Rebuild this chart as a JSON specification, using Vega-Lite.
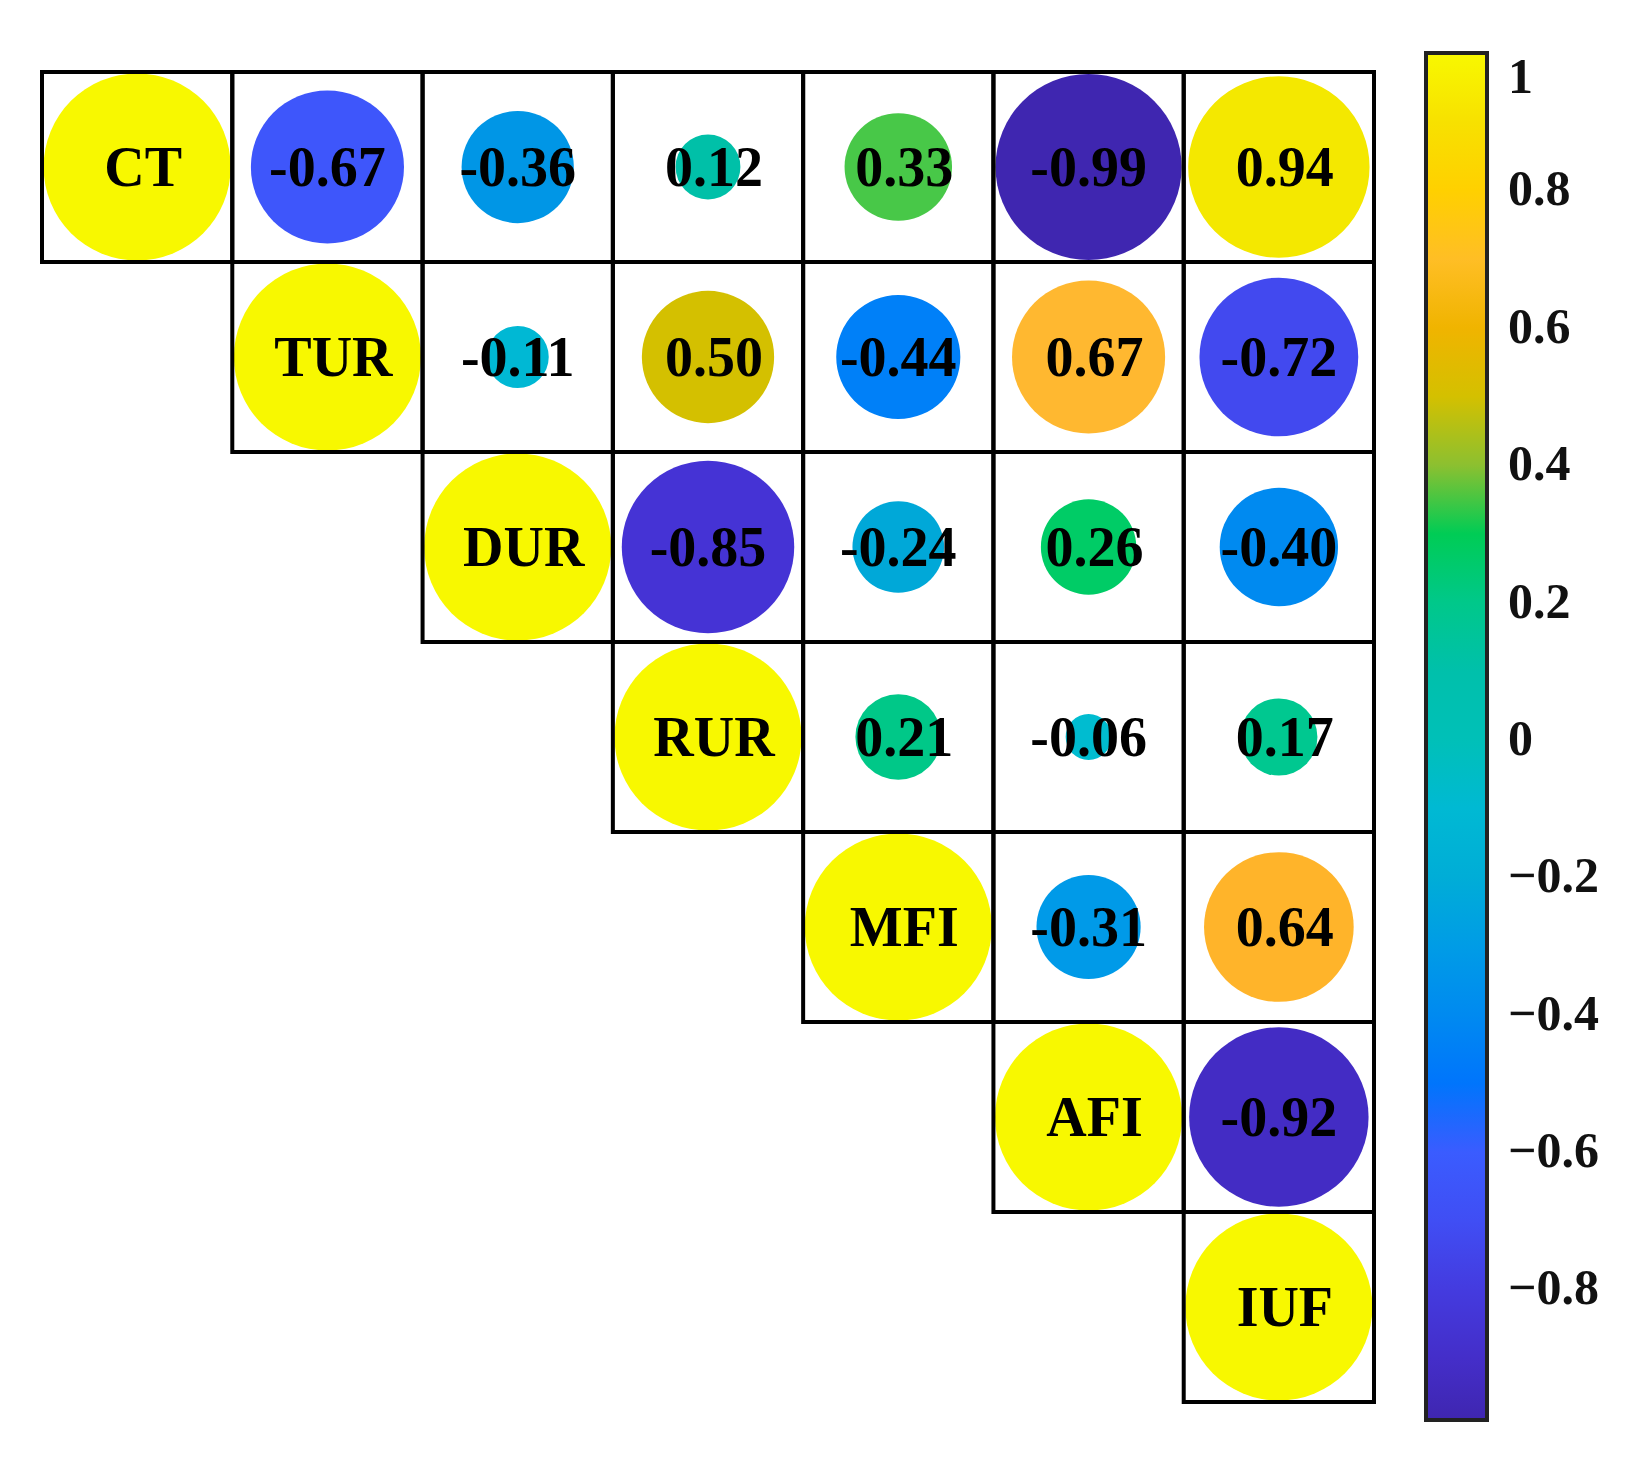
{
  "$schema": "https://vega.github.io/schema/vega-lite/v6.json",
  "autosize": {"type": "none"},
  "width": 1332,
  "height": 1330,
  "padding": {"left": 42, "top": 72, "right": 268, "bottom": 71},
  "background": "white",
  "config": {"view": {"stroke": null}},
  "data": {
    "values": [
      {"row": "CT", "col": "CT", "r": 1, "label": "CT"},
      {"row": "CT", "col": "TUR", "r": -0.67, "label": "-0.67"},
      {"row": "CT", "col": "DUR", "r": -0.36, "label": "-0.36"},
      {"row": "CT", "col": "RUR", "r": 0.12, "label": "0.12"},
      {"row": "CT", "col": "MFI", "r": 0.33, "label": "0.33"},
      {"row": "CT", "col": "AFI", "r": -0.99, "label": "-0.99"},
      {"row": "CT", "col": "IUF", "r": 0.94, "label": "0.94"},
      {"row": "TUR", "col": "TUR", "r": 1, "label": "TUR"},
      {"row": "TUR", "col": "DUR", "r": -0.11, "label": "-0.11"},
      {"row": "TUR", "col": "RUR", "r": 0.50, "label": "0.50"},
      {"row": "TUR", "col": "MFI", "r": -0.44, "label": "-0.44"},
      {"row": "TUR", "col": "AFI", "r": 0.67, "label": "0.67"},
      {"row": "TUR", "col": "IUF", "r": -0.72, "label": "-0.72"},
      {"row": "DUR", "col": "DUR", "r": 1, "label": "DUR"},
      {"row": "DUR", "col": "RUR", "r": -0.85, "label": "-0.85"},
      {"row": "DUR", "col": "MFI", "r": -0.24, "label": "-0.24"},
      {"row": "DUR", "col": "AFI", "r": 0.26, "label": "0.26"},
      {"row": "DUR", "col": "IUF", "r": -0.40, "label": "-0.40"},
      {"row": "RUR", "col": "RUR", "r": 1, "label": "RUR"},
      {"row": "RUR", "col": "MFI", "r": 0.21, "label": "0.21"},
      {"row": "RUR", "col": "AFI", "r": -0.06, "label": "-0.06"},
      {"row": "RUR", "col": "IUF", "r": 0.17, "label": "0.17"},
      {"row": "MFI", "col": "MFI", "r": 1, "label": "MFI"},
      {"row": "MFI", "col": "AFI", "r": -0.31, "label": "-0.31"},
      {"row": "MFI", "col": "IUF", "r": 0.64, "label": "0.64"},
      {"row": "AFI", "col": "AFI", "r": 1, "label": "AFI"},
      {"row": "AFI", "col": "IUF", "r": -0.92, "label": "-0.92"},
      {"row": "IUF", "col": "IUF", "r": 1, "label": "IUF"}
    ]
  },
  "encoding": {
    "x": {"field": "col", "type": "nominal", "sort": ["CT", "TUR", "DUR", "RUR", "MFI", "AFI", "IUF"], "axis": null, "scale": {"paddingInner": 0, "paddingOuter": 0}},
    "y": {"field": "row", "type": "nominal", "sort": ["CT", "TUR", "DUR", "RUR", "MFI", "AFI", "IUF"], "axis": null, "scale": {"paddingInner": 0, "paddingOuter": 0}}
  },
  "layer": [
    {
      "mark": {"type": "rect", "fill": "white", "stroke": null}
    },
    {
      "mark": {"type": "circle", "opacity": 1, "strokeWidth": 0},
      "encoding": {
        "size": {"field": "r", "type": "quantitative", "legend": null, "scale": {"type": "linear", "domain": [-1, 0, 1], "range": [35000, 0, 35000], "zero": false, "nice": false, "clamp": true}},
        "color": {
          "field": "r", "type": "quantitative",
          "scale": {
            "type": "linear", "interpolate": "rgb", "nice": false, "zero": false,
            "domain": [-0.99, -0.92, -0.85, -0.72, -0.67, -0.6, -0.55, -0.44, -0.4, -0.36, -0.31, -0.24, -0.11, -0.06, 0, 0.12, 0.17, 0.21, 0.26, 0.3, 0.33, 0.4, 0.5, 0.6, 0.64, 0.67, 0.8, 0.94, 1],
            "range": ["#3f26b0", "#432cc4", "#4533d5", "#4249ef", "#3e56fb", "#3a5cff", "#006cff", "#0080f8", "#008af0", "#0096e6", "#009ae8", "#00a8d8", "#00b8d4", "#00bcd0", "#00c0b8", "#00c0a8", "#00c890", "#00c888", "#00cc66", "#00cc55", "#48c848", "#8cc030", "#d4c000", "#f0b400", "#ffb42a", "#ffb830", "#ffd000", "#f4e800", "#f8f800"]
          },
          "legend": {
            "orient": "none",
            "legendX": 1384,
            "legendY": -19,
            "direction": "vertical",
            "title": null,
            "gradientLength": 1367,
            "gradientThickness": 61,
            "gradientStrokeColor": "#222222",
            "gradientStrokeWidth": 4,
            "values": [-0.8, -0.6, -0.4, -0.2, 0, 0.2, 0.4, 0.6, 0.8, 1],
            "format": "~g",
            "labelFont": "Liberation Serif",
            "labelFontWeight": "bold",
            "labelFontSize": 50,
            "labelColor": "#111111",
            "labelOffset": 21,
            "labelBaseline": "middle",
            "labelOverlap": false,
            "labelLimit": 200
          }
        }
      }
    },
    {
      "mark": {"type": "rect", "fill": null, "stroke": "black", "strokeWidth": 4}
    },
    {
      "transform": [{"filter": "datum.r >= 0"}],
      "mark": {"type": "text", "font": "Liberation Serif", "fontWeight": "bold", "fontSize": 56, "color": "black", "baseline": "middle", "align": "center", "dx": 6, "dy": 2},
      "encoding": {"text": {"field": "label", "type": "nominal"}}
    },
    {
      "transform": [{"filter": "datum.r < 0"}],
      "mark": {"type": "text", "font": "Liberation Serif", "fontWeight": "bold", "fontSize": 56, "color": "black", "baseline": "middle", "align": "center", "dx": 0, "dy": 2},
      "encoding": {"text": {"field": "label", "type": "nominal"}}
    }
  ]
}
